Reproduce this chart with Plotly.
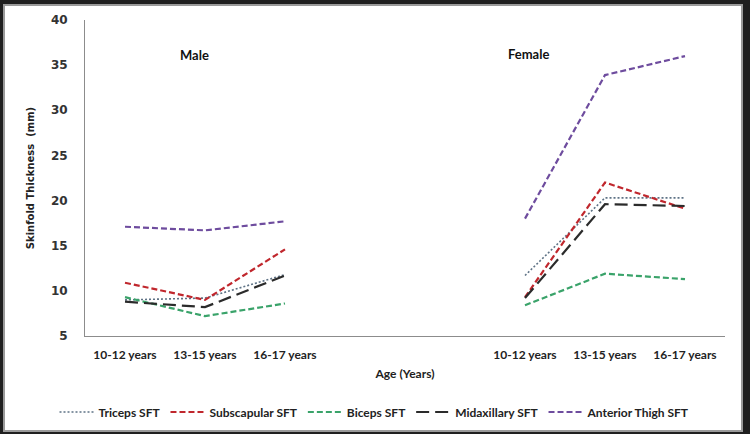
import plotly.graph_objects as go

# ---- data ----
age_groups = ["10-12 years", "13-15 years", "16-17 years"]
groups = ["Male", "Female"]
series_names = ["Triceps SFT", "Subscapular SFT", "Biceps SFT", "Midaxillary SFT", "Anterior Thigh SFT"]
triceps_male = [9.0, 9.2, 11.8]
triceps_female = [11.7, 20.3, 20.3]
subscapular_male = [10.9, 9.0, 14.6]
subscapular_female = [9.3, 22.0, 19.1]
biceps_male = [9.3, 7.2, 8.6]
biceps_female = [8.4, 11.9, 11.3]
midaxillary_male = [8.8, 8.2, 11.7]
midaxillary_female = [9.2, 19.6, 19.4]
thigh_male = [17.1, 16.7, 17.7]
thigh_female = [18.0, 33.9, 36.0]

# category slots: 3 male, 2 blank spacers, 3 female
slots = list(range(8))
male_slots = slots[0:3]
female_slots = slots[5:8]
tick_text = age_groups + ["", ""] + age_groups

series_male = [triceps_male, subscapular_male, biceps_male, midaxillary_male, thigh_male]
series_female = [triceps_female, subscapular_female, biceps_female, midaxillary_female, thigh_female]

styles = [
    dict(color="#5f7386", width=1.6, dash="2px,2px"),
    dict(color="#c0272d", width=2.2, dash="6px,3px"),
    dict(color="#3aa36a", width=2.2, dash="6px,3px"),
    dict(color="#2b2b2b", width=2.2, dash="13px,6px"),
    dict(color="#6e4c9e", width=2.2, dash="6px,3px"),
]

fig = go.Figure()
for name, m, f, st in zip(series_names, series_male, series_female, styles):
    xs = male_slots + [None] + female_slots
    ys = m + [None] + f
    fig.add_trace(go.Scatter(x=xs, y=ys, mode="lines", name=name, line=st,
                             connectgaps=False))

W, H = 750, 434
L, R, T, B = 85, 25, 20, 98
pw, ph = W - L - R, H - T - B

def px_x(x):
    return (x - L) / pw

def px_y(y):
    return (H - B - y) / ph

# white frame inside dark border
fig.add_shape(type="rect", xref="paper", yref="paper",
              x0=px_x(4), x1=px_x(742), y0=px_y(431), y1=px_y(5),
              fillcolor="white", line=dict(color="#9a9a9a", width=2), layer="below")

fig.add_annotation(text="<b>Male</b>", xref="paper", yref="paper",
                   x=px_x(178), y=px_y(45), showarrow=False,
                   font=dict(family="Lato", size=13, color="#111"))
fig.add_annotation(text="<b>Female</b>", xref="paper", yref="paper",
                   x=px_x(551), y=px_y(44), showarrow=False,
                   font=dict(family="Lato", size=13, color="#111"))

fig.update_layout(
    width=W, height=H,
    margin=dict(l=L, r=R, t=T, b=B),
    paper_bgcolor="#1f1f1f",
    plot_bgcolor="rgba(0,0,0,0)",
    showlegend=True,
    legend=dict(orientation="h", xref="container", yref="container",
                x=0.5, xanchor="center", y=1 - 412 / H, yanchor="middle",
                font=dict(family="Lato", size=12, color="#222", weight="bold"),
                bgcolor="rgba(0,0,0,0)", itemwidth=34),
    xaxis=dict(range=[-0.5, 7.5], tickmode="array", tickvals=slots, ticktext=tick_text,
               showgrid=False, zeroline=False, showline=True, linecolor="#8c8c8c", linewidth=1,
               ticks="", ticklabelstandoff=8,
               tickfont=dict(family="Lato", size=12, color="#222", weight="bold"),
               title=dict(text="Age (Years)", standoff=8,
                          font=dict(family="Lato", size=12, color="#222", weight="bold"))),
    yaxis=dict(range=[5, 40], dtick=5, tick0=5,
               showgrid=False, zeroline=False, showline=True, linecolor="#8c8c8c", linewidth=1,
               ticks="", ticklabelstandoff=14,
               tickfont=dict(family="DejaVu Sans", size=12, color="#333", weight="bold"),
               title=dict(text="Skinfold Thickness  (mm)", standoff=14,
                          font=dict(family="DejaVu Sans", size=10, color="#222", weight="bold"))),
)

fig.write_html("out.html")
